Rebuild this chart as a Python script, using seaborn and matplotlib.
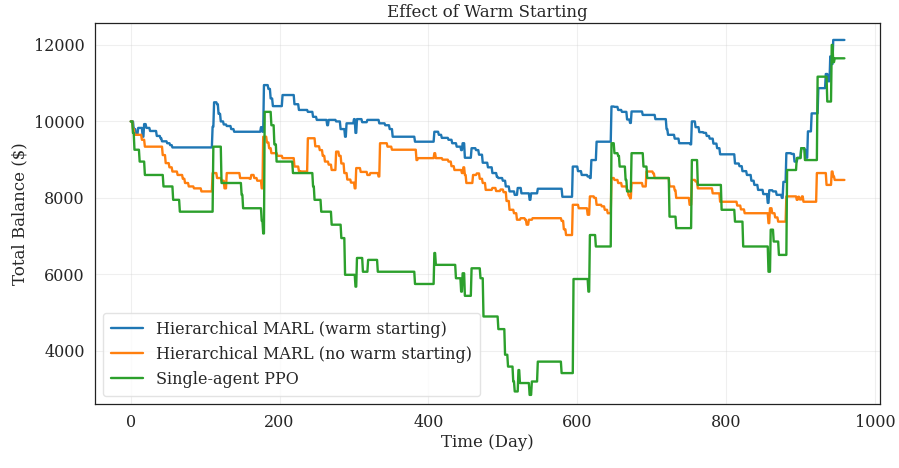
import numpy as np
import pandas as pd
import matplotlib
matplotlib.use("Agg")
import matplotlib.pyplot as plt
import seaborn as sns

# ---- data: (day, balance) change points, held constant between points ----
warm_days = [0, 4, 7, 10, 15, 16, 18, 21, 26, 32, 35, 40, 42, 49, 53, 56, 109, 110, 112, 116, 118, 121, 125, 129, 135, 139,
             173, 175, 177, 179, 185, 188, 191, 204, 218, 220, 226, 238, 245, 250, 262, 264, 266, 276, 282, 288, 290, 296,
             300, 302, 304, 311, 318, 330, 334, 342, 348, 352, 382, 406, 408, 414, 418, 427, 432, 438, 444, 446, 449, 456,
             458, 464, 468, 473, 480, 486, 492, 494, 500, 504, 509, 516, 520, 525, 533, 536, 538, 545, 547, 577, 580, 592,
             594, 601, 606, 614, 617, 619, 623, 626, 644, 646, 650, 655, 660, 667, 671, 673, 687, 688, 701, 705, 716, 720,
             722, 731, 737, 747, 752, 754, 759, 764, 770, 774, 778, 783, 788, 792, 807, 812, 818, 822, 828, 834, 838, 843,
             850, 856, 858, 863, 868, 875, 877, 881, 888, 892, 896, 901, 906, 908, 910, 915, 921, 924, 933, 934, 937, 940,
             942, 944, 959]
warm_vals = [10000, 9800, 9650, 9830, 9830, 9600, 9930, 9830, 9750, 9750, 9620, 9560, 9480, 9430, 9380, 9320, 9320, 9860,
             10500, 10450, 10200, 10000, 9920, 9880, 9800, 9730, 9730, 9850, 9730, 10950, 10850, 10600, 10400, 10690, 10690,
             10450, 10300, 10250, 10120, 10040, 10040, 9900, 10040, 10000, 9800, 9600, 9950, 9950, 10060, 9700, 10060, 9980,
             10040, 10040, 9950, 9900, 9800, 9600, 9470, 9470, 9730, 9650, 9570, 9520, 9430, 9340, 9250, 9430, 9050, 9050,
             9300, 9250, 9130, 8920, 8800, 8650, 8550, 8520, 8450, 8300, 8170, 8080, 8260, 8120, 8120, 7950, 8120, 8120,
             8240, 8240, 8030, 8030, 8820, 8700, 8600, 8560, 8520, 8990, 8990, 9470, 9470, 10390, 10380, 10300, 10250,
             10050, 9960, 10260, 10260, 10170, 10170, 10060, 10060, 9800, 9650, 9550, 9430, 9430, 9400, 10000, 9850, 9720,
             9700, 9620, 9550, 9420, 9300, 9140, 9140, 8900, 8830, 8700, 8600, 8450, 8340, 8210, 8100, 7870, 8200, 8170,
             8080, 8000, 8420, 9170, 9150, 8950, 9050, 9300, 9250, 9050, 9740, 10210, 10210, 10870, 10870, 11240, 11050,
             11700, 11500, 12130, 12130]

cold_days = [0, 3, 5, 12, 15, 19, 41, 43, 47, 52, 56, 63, 70, 73, 78, 85, 95, 109, 110, 116, 122, 126, 129, 144, 147, 160,
             162, 166, 170, 176, 178, 181, 183, 186, 189, 197, 204, 218, 220, 226, 229, 236, 238, 245, 248, 254, 258, 261,
             266, 270, 275, 276, 280, 283, 287, 291, 296, 301, 303, 307, 309, 316, 318, 322, 330, 333, 335, 343, 345, 351,
             355, 381, 384, 386, 406, 408, 410, 419, 427, 431, 435, 441, 445, 447, 449, 451, 458, 460, 465, 469, 473, 477,
             486, 491, 497, 501, 505, 509, 515, 519, 524, 530, 532, 535, 540, 546, 577, 579, 582, 585, 592, 594, 600, 602,
             612, 614, 617, 623, 626, 633, 637, 641, 644, 646, 650, 655, 660, 667, 669, 671, 673, 686, 688, 693, 698, 702,
             704, 720, 724, 731, 733, 749, 751, 754, 759, 762, 781, 782, 791, 792, 810, 815, 820, 825, 855, 857, 859, 862,
             866, 870, 879, 881, 893, 895, 897, 899, 902, 904, 921, 922, 933, 935, 940, 942, 944, 946, 959]
cold_vals = [10000, 9800, 9650, 9650, 9520, 9340, 9340, 9120, 8910, 8800, 8690, 8600, 8500, 8390, 8300, 8250, 8170, 8170,
             8650, 8520, 8450, 8250, 8650, 8650, 8520, 8500, 8600, 8520, 8450, 8250, 9600, 9600, 9450, 9300, 9170, 9100,
             9040, 9040, 8820, 8700, 8690, 8690, 9560, 9560, 9350, 9250, 9100, 8950, 8870, 8730, 8730, 9210, 9100, 8900,
             8650, 8480, 8400, 8250, 8780, 8780, 8680, 8680, 8600, 8650, 8650, 8560, 9430, 9430, 9340, 9260, 9260, 9260,
             8990, 9040, 9040, 9170, 9040, 9000, 8950, 8830, 8730, 8730, 8650, 8800, 8600, 8390, 8390, 8600, 8640, 8500,
             8390, 8210, 8260, 8180, 8220, 8150, 7920, 7690, 7600, 7430, 7470, 7430, 7300, 7430, 7470, 7470, 7470, 7400,
             7180, 7030, 7030, 7820, 7820, 7730, 7730, 7560, 8040, 8000, 7820, 7780, 7690, 7600, 7600, 8520, 8470, 8390,
             8300, 8200, 8070, 7990, 8390, 8390, 8300, 8690, 8690, 8640, 8520, 8520, 8300, 8200, 8000, 8000, 7820, 8470,
             8430, 8250, 8250, 8120, 8120, 7900, 7900, 7800, 7700, 7600, 7600, 7340, 7730, 7600, 7490, 7380, 7380, 8040,
             8040, 7950, 8030, 7960, 8040, 7900, 7900, 8650, 8650, 8340, 8340, 8690, 8560, 8470, 8470]

ppo_days = [0, 3, 5, 10, 12, 17, 19, 41, 44, 55, 57, 64, 66, 109, 111, 120, 122, 147, 149, 151, 173, 176, 178, 180, 187, 189,
            193, 196, 216, 218, 243, 245, 247, 254, 256, 268, 270, 281, 283, 288, 301, 302, 304, 310, 312, 317, 319, 330,
            332, 380, 382, 406, 408, 410, 435, 437, 442, 444, 446, 449, 456, 458, 468, 470, 474, 492, 494, 501, 503, 507,
            512, 514, 516, 520, 521, 523, 534, 536, 539, 545, 547, 577, 579, 592, 595, 613, 615, 617, 623, 625, 644, 646,
            650, 655, 657, 662, 665, 667, 671, 673, 687, 689, 694, 722, 724, 731, 733, 751, 754, 760, 762, 791, 794, 810,
            812, 818, 823, 855, 857, 860, 863, 864, 869, 871, 880, 882, 893, 895, 899, 901, 904, 906, 921, 923, 934, 936,
            940, 942, 944, 946, 959]
ppo_vals = [10000, 9700, 9260, 9260, 8950, 8950, 8600, 8600, 8300, 8300, 7950, 7950, 7640, 7640, 9340, 9340, 8390, 8390,
            8080, 7730, 7730, 7400, 7070, 10250, 10250, 9900, 9400, 8950, 8950, 8650, 8650, 8300, 7950, 7950, 7640, 7640,
            7300, 7300, 6950, 5990, 5990, 5680, 6430, 6430, 6070, 6070, 6380, 6380, 6070, 6070, 5750, 5750, 6560, 6250,
            6250, 5900, 5900, 5550, 6030, 5440, 5440, 6160, 6160, 5900, 4900, 4900, 4570, 4570, 3900, 3590, 3590, 3200,
            2940, 2940, 3500, 3160, 3160, 2850, 3200, 3200, 3720, 3720, 3420, 3420, 5880, 5880, 5550, 7030, 7030, 6730,
            6730, 9430, 9170, 9100, 8820, 8820, 8470, 8170, 8170, 9170, 9170, 8820, 8520, 8520, 7510, 7510, 7210, 7210,
            8990, 8990, 8340, 8340, 7690, 7690, 7380, 7380, 6730, 6730, 6070, 7170, 7170, 6860, 6860, 6510, 6510, 8730,
            8730, 9040, 9040, 9300, 9300, 8990, 8990, 11170, 11170, 10520, 10520, 12000, 11550, 11650, 11650]

labels = ["Hierarchical MARL (warm starting)",
          "Hierarchical MARL (no warm starting)",
          "Single-agent PPO"]


def daily(days, vals):
    s = pd.Series(vals, index=days)
    s = s[~s.index.duplicated(keep="last")]
    return s.reindex(np.arange(0, max(days) + 1)).ffill()


frames = []
for lab, d, v in zip(labels, [warm_days, cold_days, ppo_days], [warm_vals, cold_vals, ppo_vals]):
    s = daily(d, v)
    frames.append(pd.DataFrame({"Day": s.index, "Balance": s.values, "Method": lab}))
df = pd.concat(frames, ignore_index=True)

sns.set_style("white")
plt.rcParams["font.family"] = ["DejaVu Serif"]
plt.rcParams["font.size"] = 11.5

fig = plt.figure(figsize=(8.99, 4.68), dpi=100)
ax = fig.add_axes([0.1057, 0.137, 0.8733, 0.814])

palette = ["#1f77b4", "#ff7f0e", "#2ca02c"]
sns.lineplot(data=df, x="Day", y="Balance", hue="Method", hue_order=labels,
             palette=palette, linewidth=1.7, ax=ax, legend=True)

ax.grid(True, alpha=0.3)
ax.set_title("Effect of Warm Starting", fontsize=12, pad=4)
ax.set_xlabel("Time (Day)", fontsize=12, labelpad=2)
ax.set_ylabel("Total Balance ($)", fontsize=12, labelpad=4)
ax.tick_params(axis="both", labelsize=11.5, length=4, width=0.8, color="#333333")
ax.set_xticks([0, 200, 400, 600, 800, 1000])
ax.set_yticks([4000, 6000, 8000, 10000, 12000])
ax.set_xlim(-48, 1007)
ax.set_ylim(2615, 12575)
for sp in ax.spines.values():
    sp.set_color("#222222")
    sp.set_linewidth(0.9)

handles, labs = ax.get_legend_handles_labels()
ax.legend(handles, labs, loc="lower left", fontsize=11.5, frameon=True,
          framealpha=0.8, edgecolor="#dddddd", borderpad=0.5, handlelength=2.0)

fig.savefig("out.png", dpi=100)
